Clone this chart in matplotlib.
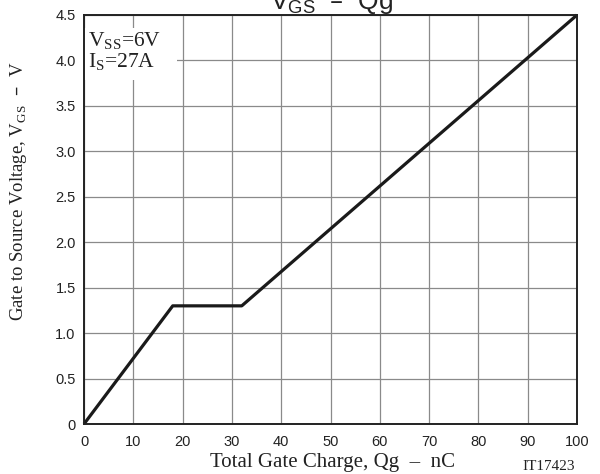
import matplotlib
matplotlib.use("Agg")
import matplotlib.pyplot as plt
from matplotlib.patches import Rectangle
from matplotlib.ticker import FuncFormatter

# curve corners
qg = [0, 18, 32, 100]          # nC
vgs = [0, 1.3, 1.3, 4.5]       # V

x_ticks = list(range(0, 101, 10))
y_ticks = [0, 0.5, 1.0, 1.5, 2.0, 2.5, 3.0, 3.5, 4.0, 4.5]

title = r"V$_{\mathregular{GS}}$  –  Qg"
xlabel = "Total Gate Charge, Qg  –  nC"
ylabel = r"Gate to Source Voltage, V$_{\mathregular{GS}}$  –  V"
cond1 = r"V$_{\mathregular{SS}}$=6V"
cond2 = r"I$_{\mathregular{S}}$=27A"
fig_code = "IT17423"

W, H = 600, 474
fig = plt.figure(figsize=(W / 100, H / 100), dpi=100)
ax = fig.add_axes([84 / W, 1 - 424 / H, 493 / W, 409 / H])

ax.plot(qg, vgs, color="#1a1a1a", lw=2.3, solid_capstyle="butt", zorder=4, clip_on=False)

ax.set_xlim(0, 100)
ax.set_ylim(0, 4.5)
ax.set_xticks(x_ticks)
ax.set_yticks(y_ticks)
ax.yaxis.set_major_formatter(FuncFormatter(lambda v, p: "0" if v == 0 else f"{v:.1f}"))
ax.grid(True, color="#8a8a8a", lw=0.9)
ax.set_axisbelow(True)
ax.tick_params(length=0, labelsize=10.5, labelcolor="#222222")
ax.tick_params(axis="x", pad=8)
ax.tick_params(axis="y", pad=6)
for lab in ax.get_xticklabels() + ax.get_yticklabels():
    lab.set_fontfamily("Liberation Sans")
for s in ax.spines.values():
    s.set_linewidth(1.4)
    s.set_color("#222222")
    s.set_zorder(5)

# white box behind the test conditions
ax.add_patch(Rectangle((0, (424 - 80) / 409), (177 - 84) / 493, (80 - 28) / 409,
                       transform=ax.transAxes, facecolor="white", edgecolor="none", zorder=2))
serif = "Liberation Serif"
ax.text(0.008, (424 - 46) / 409, cond1, transform=ax.transAxes, fontsize=15.5,
        family=serif, va="baseline", color="#222222", zorder=3)
ax.text(0.008, (424 - 67) / 409, cond2, transform=ax.transAxes, fontsize=15.5,
        family=serif, va="baseline", color="#222222", zorder=3)

fig.text(332 / W, 1 - 9 / H, title, fontsize=19, family="Liberation Sans",
         ha="center", va="baseline", color="#222222")
fig.text(332 / W, 1 - 467 / H, xlabel, fontsize=15, family=serif,
         ha="center", va="baseline", color="#222222")
fig.text(19 / W, 1 - 191 / H, ylabel, fontsize=13.5, family=serif, rotation=90,
         ha="center", va="center", color="#222222")
fig.text(575 / W, 1 - 470 / H, fig_code, fontsize=11, family=serif,
         ha="right", va="baseline", color="#222222")

fig.savefig("out.png", dpi=100)
